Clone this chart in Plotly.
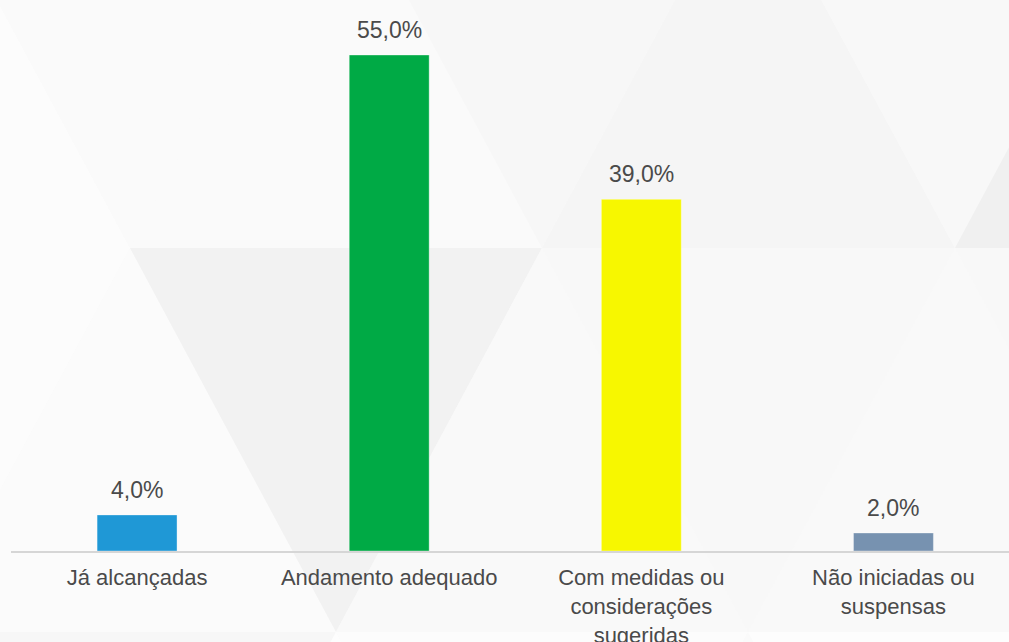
import plotly.graph_objects as go

categories = ["Já alcançadas", "Andamento adequado",
              "Com medidas ou<br>considerações<br>sugeridas",
              "Não iniciadas ou<br>suspensas"]
values = [4.0, 55.0, 39.0, 2.0]
labels = ["4,0%", "55,0%", "39,0%", "2,0%"]
bar_colors = ["#1f98d6", "#00aa45", "#f7f700", "#7792b0"]

W, H = 1009, 642
L, R, T, B = 11, 0, 0, 91
pw, ph = W - L - R, H - T - B

def px(x):
    return (x - L) / pw

def py(y):
    return (H - B - y) / ph

def tri(pts, color):
    d = "M " + " L ".join(f"{px(x):.5f},{py(y):.5f}" for x, y in pts) + " Z"
    return dict(type="path", path=d, xref="paper", yref="paper",
                fillcolor=color, line=dict(width=0), layer="below")

# background triangle tessellation (decorative)
r0, r1, r2, r3 = -136, 248, 632, 1016
shapes = [
    # row 1
    tri([(-283, r1), (130, r1), (-76, r0)], "#fcfcfc"),
    tri([(-76, r0), (336, r0), (130, r1)], "#fafafa"),
    tri([(130, r1), (542, r1), (336, r0)], "#fafafa"),
    tri([(336, r0), (748, r0), (542, r1)], "#f7f7f7"),
    tri([(542, r1), (955, r1), (748, r0)], "#f5f5f5"),
    tri([(748, r0), (1161, r0), (955, r1)], "#f8f8f8"),
    tri([(955, r1), (1367, r1), (1161, r0)], "#f0f0f0"),
    # row 2
    tri([(-283, r1), (130, r1), (-76, r2)], "#fcfcfc"),
    tri([(130, r1), (-76, r2), (336, r2)], "#fbfbfb"),
    tri([(130, r1), (542, r1), (336, r2)], "#f2f2f2"),
    tri([(542, r1), (336, r2), (748, r2)], "#f9f9f9"),
    tri([(542, r1), (955, r1), (748, r2)], "#f8f8f8"),
    tri([(955, r1), (748, r2), (1161, r2)], "#f9f9f9"),
    tri([(955, r1), (1367, r1), (1161, r2)], "#f8f8f8"),
    # row 3
    tri([(-76, r2), (336, r2), (130, r3)], "#f7f7f7"),
    tri([(336, r2), (130, r3), (542, r3)], "#fdfdfd"),
    tri([(336, r2), (748, r2), (542, r3)], "#fcfcfc"),
    tri([(748, r2), (542, r3), (955, r3)], "#fafafa"),
    tri([(748, r2), (1161, r2), (955, r3)], "#fdfdfd"),
]

font_family = "Liberation Sans, Arial, sans-serif"
text_color = "#4a4a4a"

fig = go.Figure()
fig.add_trace(go.Bar(
    x=categories, y=values,
    marker=dict(color=bar_colors, line=dict(color="rgba(255,255,255,0.35)", width=1)),
    hoverinfo="skip",
))

annotations = [
    dict(x=c, y=v, text=t, showarrow=False, xref="x", yref="y",
         yanchor="bottom", yshift=10,
         font=dict(family=font_family, size=23, color=text_color))
    for c, v, t in zip(categories, values, labels)
]

fig.update_layout(
    width=W, height=H,
    margin=dict(l=L, r=R, t=T, b=B, pad=0, autoexpand=False),
    paper_bgcolor="#f9f9f9",
    plot_bgcolor="rgba(0,0,0,0)",
    bargap=0.683,
    showlegend=False,
    shapes=shapes,
    annotations=annotations,
    font=dict(family=font_family, size=23, color=text_color),
    xaxis=dict(
        range=[-0.5, (W - L - 126.5) / 252.0],
        showline=True, linecolor="#d6d6d6", linewidth=2,
        showgrid=False, zeroline=False, ticks="",
        automargin=False,
        ticklabelstandoff=6,
        tickfont=dict(family=font_family, size=22, color=text_color),
        fixedrange=True,
    ),
    yaxis=dict(
        range=[0, 61.1], visible=False, showgrid=False, zeroline=False,
        automargin=False, fixedrange=True,
    ),
)

fig.write_html(
    "out.html",
    config={"displayModeBar": False},
    post_script="document.body.style.margin='0';document.body.style.overflow='hidden';",
)
